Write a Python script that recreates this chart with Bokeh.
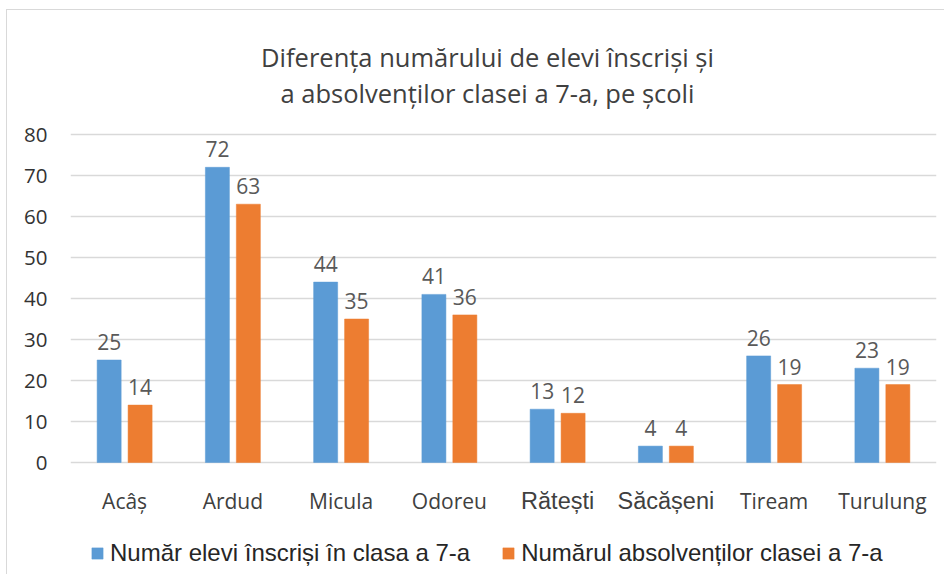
from bokeh.plotting import figure
from bokeh.models import (ColumnDataSource, Range1d, FixedTicker, Label, Legend, LegendItem)
from bokeh.core.properties import value
from bokeh.embed import file_html
from bokeh.resources import INLINE

schools = ["Acâș", "Ardud", "Micula", "Odoreu", "Rătești", "Săcășeni", "Tiream", "Turulung"]
enrolled = [25, 72, 44, 41, 13, 4, 26, 23]
graduates = [14, 63, 35, 36, 12, 4, 19, 19]
series_names = ["Număr elevi înscriși în clasa a 7-a", "Numărul absolvenților clasei a 7-a"]
title_lines = ["Diferența numărului de elevi înscriși și", "a absolvenților clasei a 7-a, pe școli"]
y_ticks = [0, 10, 20, 30, 40, 50, 60, 70, 80]

BLUE = "#5B9BD5"
ORANGE = "#ED7D31"
FONT = "Open Sans"
ALT_FONT = "Liberation Sans"
ALT_FONT_LABELS = {"Rătești", "Săcășeni"}   # these two category labels use an Arial-like face

# pixel geometry of the figure (frame spans whole height; y axis on the left)
PX_PER_UNIT = 4.1
FRAME_H = 565
ZERO_FROM_TOP = 452     # where value 0 sits, in px from the frame top
y_start = -(FRAME_H - ZERO_FROM_TOP) / PX_PER_UNIT
y_end = ZERO_FROM_TOP / PX_PER_UNIT

centers = [i + 0.5 for i in range(len(schools))]
off = 0.143
bw = 0.222
src = ColumnDataSource(dict(
    xb=[c - off for c in centers], xo=[c + off for c in centers],
    b=enrolled, o=graduates,
    bl=[str(v) for v in enrolled], ol=[str(v) for v in graduates],
))
cat_src = ColumnDataSource(dict(
    x=centers, y=[0] * len(schools), name=schools,
    font=[ALT_FONT if s in ALT_FONT_LABELS else FONT for s in schools],
    size=["23.5px" if s in ALT_FONT_LABELS else "21px" for s in schools],
))

p = figure(width=938, height=FRAME_H, output_backend="svg", toolbar_location=None, title=None,
           x_range=Range1d(0, len(schools)), y_range=Range1d(y_start, y_end),
           min_border_left=63, min_border_right=9, min_border_top=0, min_border_bottom=0)
p.outline_line_color = None
p.background_fill_color = "white"
p.border_fill_color = "white"
p.styles = {"margin-left": "6px", "margin-top": "9px",
            "border-left": "1px solid #D9D9D9", "border-top": "1px solid #D9D9D9"}

rb = p.vbar(x="xb", top="b", width=bw, source=src, fill_color=BLUE, line_color=BLUE, line_width=0.5)
ro = p.vbar(x="xo", top="o", width=bw, source=src, fill_color=ORANGE, line_color=ORANGE, line_width=0.5)

for xf, yf, tf in (("xb", "b", "bl"), ("xo", "o", "ol")):
    p.text(x=xf, y=yf, text=tf, source=src, text_align="center", text_baseline="alphabetic",
           y_offset=-18, text_font=value(FONT), text_font_size="21px", text_color="#595959")

# category labels (drawn in the frame, below the zero line)
p.text(x="x", y="y", text="name", source=cat_src, text_align="center", text_baseline="alphabetic",
       y_offset=38, text_font="font", text_font_size="size", text_color="#404040")

p.xaxis.visible = False

p.yaxis.ticker = FixedTicker(ticks=y_ticks)
p.yaxis.axis_line_color = None
p.yaxis.major_tick_line_color = None
p.yaxis.minor_tick_line_color = None
p.yaxis.major_tick_out = 0
p.yaxis.major_tick_in = 0
p.yaxis.major_label_standoff = 23
p.yaxis.major_label_text_font = FONT
p.yaxis.major_label_text_font_size = "20.5px"
p.yaxis.major_label_text_color = "#333333"

p.xgrid.grid_line_color = None
p.ygrid.ticker = FixedTicker(ticks=y_ticks)
p.ygrid.grid_line_color = "#D9D9D9"
p.ygrid.grid_line_width = 1.3

# title, two lines
title_x = len(schools) / 2 - 16 / 108.25
for txt, base_px in zip(title_lines, (56.7, 92.7)):
    p.add_layout(Label(x=title_x, y=(462 - base_px) / PX_PER_UNIT, text=txt,
                       text_align="center", text_baseline="alphabetic",
                       text_font=FONT, text_font_size="25.5px", text_color="#404040"))

legend = Legend(items=[LegendItem(label=series_names[0], renderers=[rb]),
                       LegendItem(label=series_names[1], renderers=[ro])],
                location=(20, 8), orientation="horizontal",
                glyph_width=14, glyph_height=14, label_standoff=6, spacing=31,
                padding=0, margin=0, border_line_color=None, background_fill_alpha=0,
                label_text_font=ALT_FONT, label_text_font_size="24px",
                label_text_baseline="alphabetic", label_text_color="#262626")
p.add_layout(legend)

open("out.html", "w").write(file_html(p, INLINE))
